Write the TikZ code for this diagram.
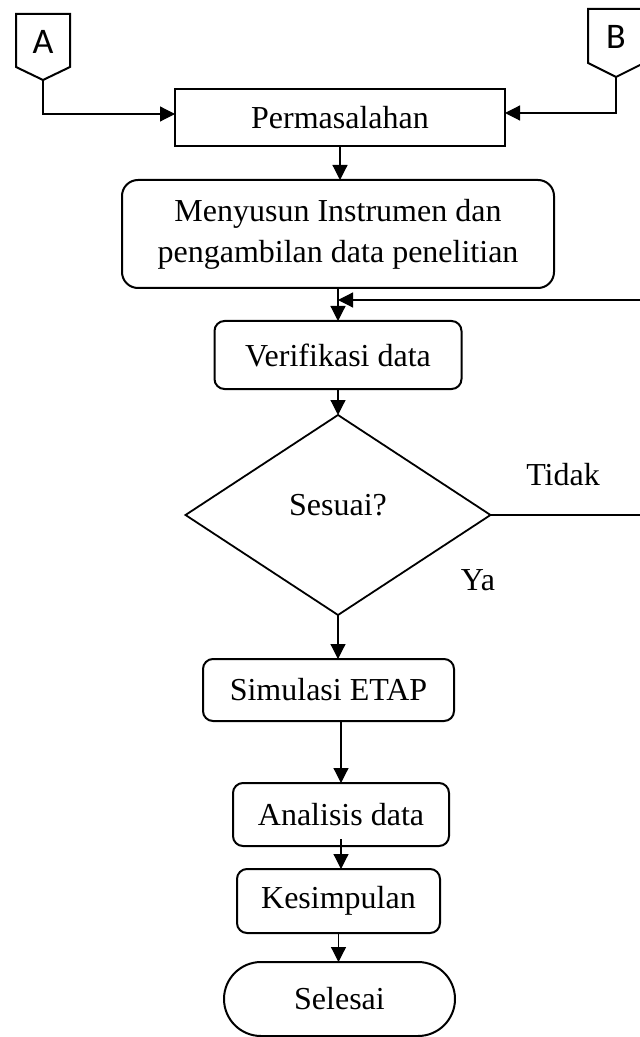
\documentclass[tikz,border=0pt]{standalone}
\usepackage{fontspec}
\setmainfont{Liberation Serif}
\newfontfamily\connfont{Carlito}
\usetikzlibrary{positioning,calc}
\usetikzlibrary{shapes.geometric}
\usetikzlibrary{arrows.meta}

\tikzset{
  box/.style={draw, line width=1pt, inner sep=0pt, outer sep=0pt, align=center,
    font=\fontsize{16}{20.5}\selectfont},
  roundbox/.style={box, rounded corners=5pt},
  decision/.style={box, diamond, line width=0.9pt},
  terminal/.style={box, rounded corners=18.5pt},
  conn/.style={inner sep=0pt, outer sep=0pt, text height=13pt, text depth=0pt,
    font=\connfont\fontsize{18}{18}\selectfont},
  flow/.style={line width=0.6pt, -{Triangle[length=7.5pt,width=7.5pt]}},
  lbl/.style={inner sep=0pt, font=\fontsize{16}{19}\selectfont},
}

\begin{document}
\begin{tikzpicture}[x=0.5pt, y=-0.5pt]
  \useasboundingbox (0,0) rectangle (640,1037);

  \node[box, minimum width=165pt, minimum height=28.5pt] (perm) at (340,117.5) {Permasalahan};
  \node[roundbox, rounded corners=8pt, minimum width=216pt, minimum height=54pt,
        below=17pt of perm, xshift=-1pt] (ins) {Menyusun Instrumen dan\\pengambilan data penelitian};
  \node[roundbox, minimum width=123.5pt, minimum height=34pt, below=16.5pt of ins] (ver) {Verifikasi data};
  \node[decision, minimum width=152.5pt, minimum height=100pt, text depth=10pt,
        below=13pt of ver] (dec) {Sesuai?};
  \node[roundbox, minimum width=125.5pt, minimum height=31pt, below=22pt of dec, xshift=-4.75pt] (sim) {Simulasi ETAP};
  \node[roundbox, minimum width=108pt, minimum height=31.5pt, below=31pt of sim, xshift=6.25pt] (ana) {Analisis data};
  \node[roundbox, minimum width=101.5pt, minimum height=32pt, below=11.5pt of ana, xshift=-1.25pt] (kes) {Kesimpulan};
  \node[terminal, minimum width=115.5pt, minimum height=37pt, below=14.5pt of kes, xshift=0.5pt] (sel) {Selesai};

  \node[conn, minimum width=27pt, minimum height=26.5pt] (conA) at (43,40.5) {A};
  \node[conn, minimum width=28pt, minimum height=27pt] (conB) at (616,36) {B};
  \draw[line width=1pt] (conA.south west) -- (conA.north west) -- (conA.north east)
        -- (conA.south east) -- ([yshift=-6.5pt]conA.south) -- cycle;
  \draw[line width=1pt] (conB.south west) -- (conB.north west) -- (conB.north east)
        -- (conB.south east) -- ([yshift=-7pt]conB.south) -- cycle;

  \node[lbl] (no) at (563,475) {Tidak};
  \node[lbl] (yes) at (478,580) {Ya};
  \coordinate (fbT) at (648,300);

  \draw[flow] ([yshift=-6.5pt]conA.south) |- ([yshift=1.75pt]perm.west);
  \draw[flow] ([yshift=-7pt]conB.south) |- ([yshift=2.25pt]perm.east);
  \draw[flow] (perm.south) -- (perm.south |- ins.north);
  \draw[flow] (ins.south) -- (ver.north);
  \draw[flow] (dec.east) -| (fbT) -- (ver.north |- fbT);
  \draw[flow] (ver.south) -- (dec.north);
  \draw[flow] (dec.south) -- (dec.south |- sim.north);
  \draw[flow] (ana.north |- sim.south) -- (ana.north);
  \draw[flow] ([yshift=3.5pt]ana.south) -- (ana.south |- kes.north);
  \draw[flow] (kes.south) -- (kes.south |- sel.north);
\end{tikzpicture}
\end{document}
